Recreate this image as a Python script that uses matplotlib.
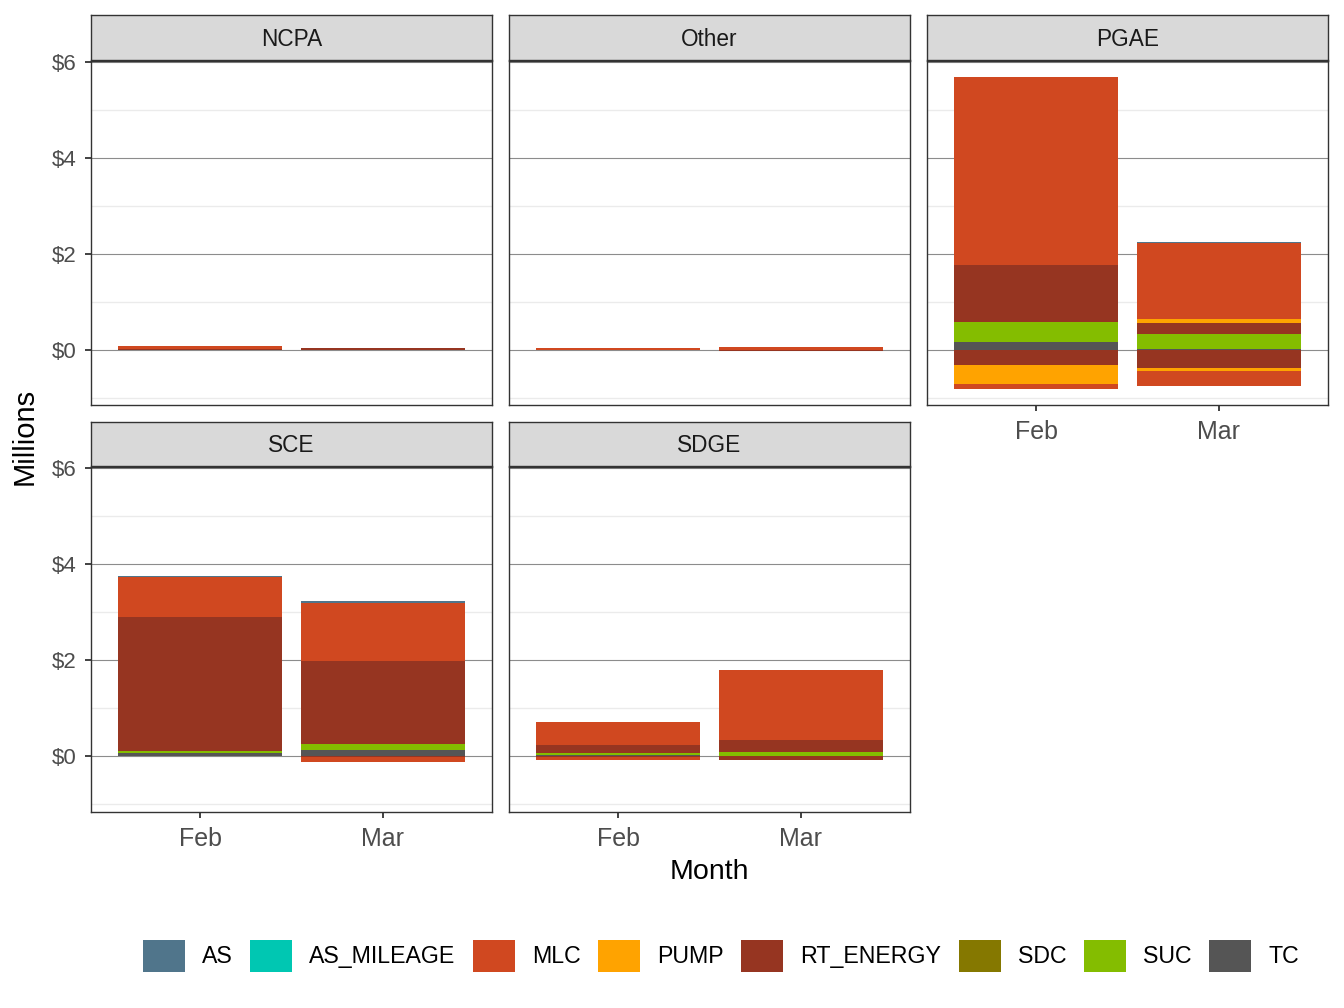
import matplotlib
matplotlib.use("Agg")
import matplotlib.pyplot as plt
from matplotlib.patches import Patch
from matplotlib.ticker import FixedLocator, FuncFormatter
import numpy as np
import pandas as pd

plt.rcParams['font.family'] = ['Liberation Sans', 'DejaVu Sans']

# ---- data ----
months = ["Feb", "Mar"]
categories = ["AS", "AS_MILEAGE", "MLC", "PUMP", "RT_ENERGY", "SDC", "SUC", "TC"]
regions = ["NCPA", "Other", "PGAE", "SCE", "SDGE"]
colors = ["#50758B", "#00C7B2", "#D04820", "#FFA300", "#963521", "#857800", "#84BD00", "#555555"]

rec_region = (["NCPA"] * 3 + ["Other"] * 3 +
              ["PGAE"] * 7 + ["PGAE"] * 9 +
              ["SCE"] * 5 + ["SCE"] * 7 +
              ["SDGE"] * 6 + ["SDGE"] * 4)
rec_month = (["Feb", "Feb", "Mar"] + ["Feb", "Mar", "Mar"] +
             ["Feb"] * 7 + ["Mar"] * 9 +
             ["Feb"] * 5 + ["Mar"] * 7 +
             ["Feb"] * 6 + ["Mar"] * 4)
rec_cat = (["MLC", "RT_ENERGY", "RT_ENERGY"] + ["MLC", "MLC", "RT_ENERGY"] +
           ["TC", "SUC", "RT_ENERGY", "MLC", "RT_ENERGY", "PUMP", "MLC"] +
           ["TC", "SUC", "RT_ENERGY", "PUMP", "MLC", "AS", "RT_ENERGY", "PUMP", "MLC"] +
           ["TC", "SUC", "RT_ENERGY", "MLC", "AS"] +
           ["TC", "SUC", "RT_ENERGY", "MLC", "AS", "RT_ENERGY", "MLC"] +
           ["TC", "SUC", "RT_ENERGY", "MLC", "RT_ENERGY", "MLC"] +
           ["SUC", "RT_ENERGY", "MLC", "RT_ENERGY"])
rec_value = ([0.05, 0.02, 0.03] + [0.03, 0.06, -0.02] +
             [0.15, 0.42, 1.20, 3.92, -0.33, -0.38, -0.12] +
             [0.02, 0.31, 0.23, 0.08, 1.59, 0.01, -0.39, -0.05, -0.31] +
             [0.08, 0.04, 2.77, 0.83, 0.04] +
             [0.125, 0.125, 1.73, 1.21, 0.03, -0.02, -0.09] +
             [0.02, 0.06, 0.15, 0.48, -0.02, -0.05] +
             [0.10, 0.25, 1.44, -0.07])

df = pd.DataFrame({"region": rec_region, "month": rec_month,
                   "cat": rec_cat, "value": rec_value})
df["cat_idx"] = df["cat"].map({c: i for i, c in enumerate(categories)})

# stacking like ggplot position_stack (last level nearest zero)
stacked = []
for (reg, mon), g in df.groupby(["region", "month"], sort=False):
    g = g.sort_values("cat_idx", ascending=False, kind="stable")
    pos, neg = 0.0, 0.0
    for _, r in g.iterrows():
        if r["value"] >= 0:
            stacked.append((reg, mon, r["cat"], pos, r["value"]))
            pos += r["value"]
        else:
            stacked.append((reg, mon, r["cat"], neg, r["value"]))
            neg += r["value"]
st = pd.DataFrame(stacked, columns=["region", "month", "cat", "bottom", "height"])
tops = st["bottom"] + st["height"]
ymax = max(tops.max(), st["bottom"].max())
ymin = min(tops.min(), st["bottom"].min())
rng = ymax - ymin
ylo, yhi = ymin - 0.05 * rng, ymax + 0.05 * rng

# ---- layout ----
W, H = 1344, 1008
fig = plt.figure(figsize=(W / 100, H / 100), dpi=100)
col_x = [91, 509, 927]
panel_w = 401
rows = [(61, 405, 15), (467, 812, 422)]  # panel top, panel bottom, strip top
grid_pos = {"NCPA": (0, 0), "Other": (0, 1), "PGAE": (0, 2), "SCE": (1, 0), "SDGE": (1, 1)}
bottom_row = {"PGAE", "SCE", "SDGE"}

cmap = dict(zip(categories, colors))
dark = "#333333"

for reg in regions:
    r, c = grid_pos[reg]
    ptop, pbot, stop = rows[r]
    x0 = col_x[c]
    ax = fig.add_axes([x0 / W, 1 - pbot / H, panel_w / W, (pbot - ptop) / H])
    ax.set_xlim(0.4, 2.6)
    ax.set_ylim(ylo, yhi)
    ax.yaxis.set_major_locator(FixedLocator([0, 2, 4, 6]))
    ax.yaxis.set_minor_locator(FixedLocator([-1, 1, 3, 5]))
    ax.grid(which="major", axis="y", color="#8C8C8C", linewidth=0.8, zorder=0)
    ax.grid(which="minor", axis="y", color="#EBEBEB", linewidth=1.0, zorder=0)
    ax.set_axisbelow(True)
    sub = st[st["region"] == reg]
    for _, b in sub.iterrows():
        xi = months.index(b["month"]) + 1
        ax.bar(xi, b["height"], bottom=b["bottom"], width=0.9,
               color=cmap[b["cat"]], linewidth=0, zorder=2)
    ax.set_xticks([1, 2])
    for s in ax.spines.values():
        s.set_color(dark)
        s.set_linewidth(1.0)
    ax.tick_params(axis="both", which="major", length=4, width=1.3, color=dark)
    ax.tick_params(axis="y", which="minor", length=0)
    if reg in bottom_row:
        ax.set_xticklabels(months, fontsize=18, color="#4D4D4D")
        ax.tick_params(axis="x", pad=6.5)
    else:
        ax.tick_params(axis="x", length=0, labelbottom=False)
    if c == 0:
        ax.yaxis.set_major_formatter(FuncFormatter(lambda v, p: f"${v:.0f}"))
        ax.tick_params(axis="y", labelsize=16, labelcolor="#4D4D4D", pad=6.5)
    else:
        ax.tick_params(axis="y", length=0, labelleft=False)
    # strip
    sax = fig.add_axes([x0 / W, 1 - (ptop - 1) / H, panel_w / W, (ptop - 1 - stop) / H])
    sax.set_facecolor("#D9D9D9")
    sax.set_xticks([])
    sax.set_yticks([])
    for s in sax.spines.values():
        s.set_color(dark)
        s.set_linewidth(1.0)
    sax.text(0.5, 0.46, reg, ha="center", va="center", fontsize=16.3, color="#1A1A1A",
             transform=sax.transAxes)

fig.text(25 / W, 1 - 436 / H, "Millions", rotation=90, ha="center", va="center",
         fontsize=21, color="black")
fig.text(709.5 / W, 1 - 872 / H, "Month", ha="center", va="center",
         fontsize=20.5, color="black")

handles = [Patch(facecolor=col, edgecolor="none", label=cat)
           for cat, col in zip(categories, colors)]
fig.legend(handles=handles, loc="center", bbox_to_anchor=(721 / W, 1 - 956 / H),
           ncol=8, frameon=False, fontsize=16.7, handlelength=1.8, handleheight=1.8,
           handletextpad=0.75, columnspacing=0.75, borderaxespad=0)

fig.savefig("out.png", dpi=100, facecolor="white")
